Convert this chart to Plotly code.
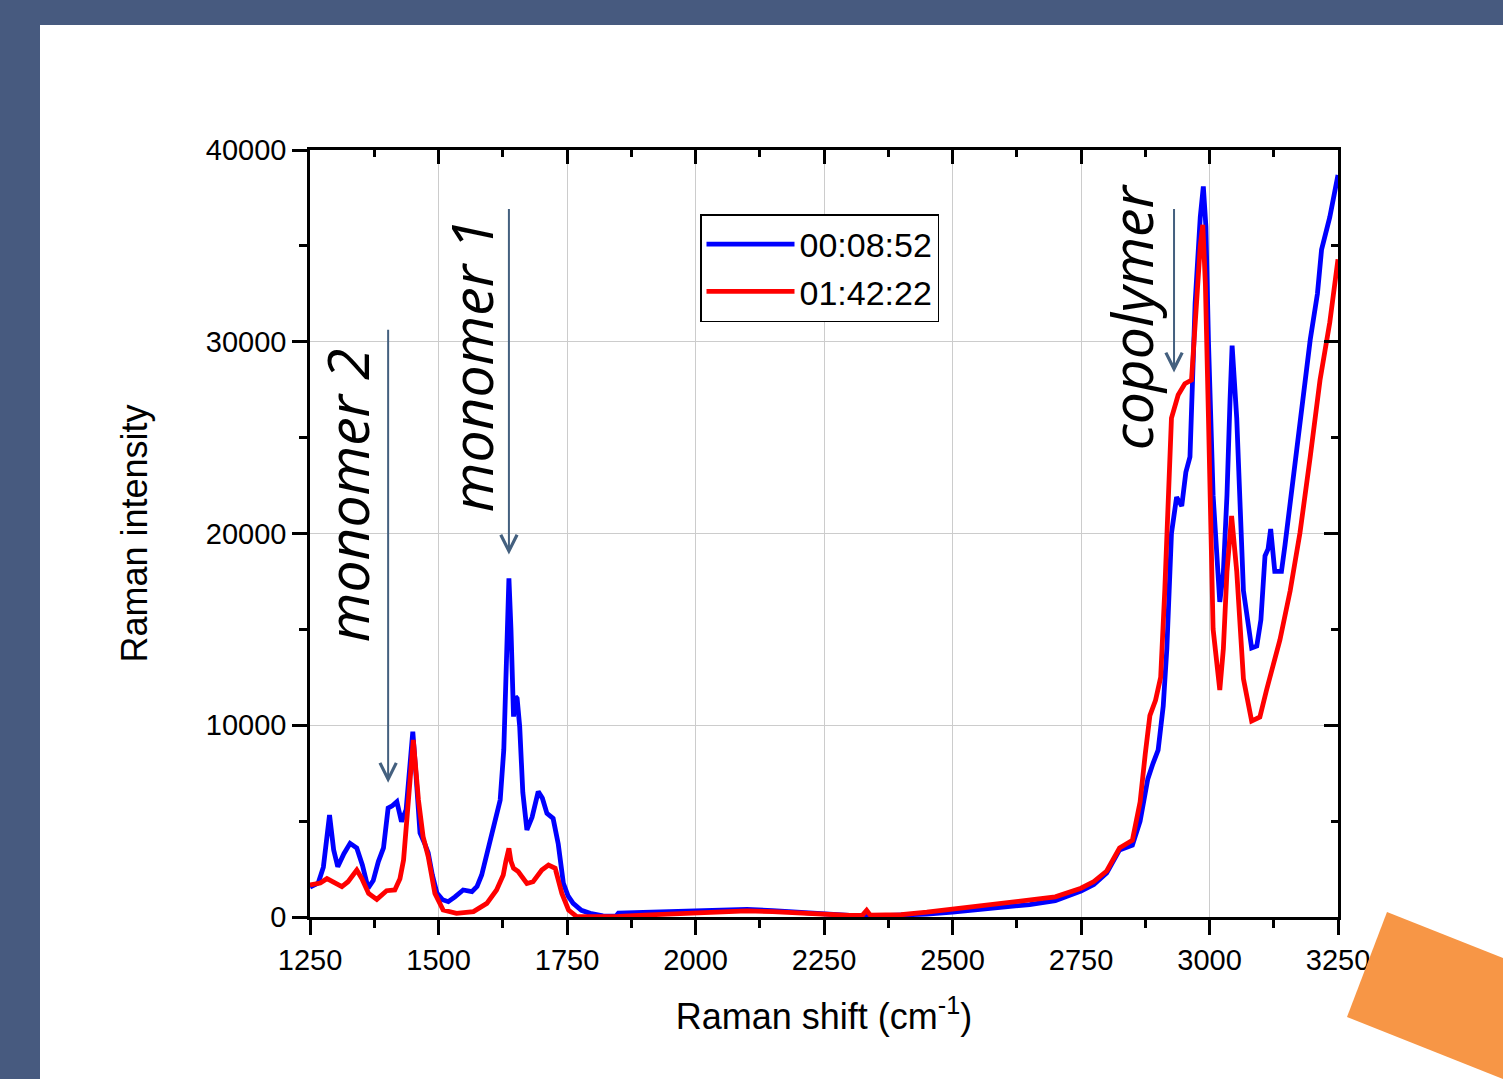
import plotly.graph_objects as go

# ---------------- data ----------------
x_blue = [1250, 1266, 1276, 1288, 1296, 1304, 1316, 1328, 1341, 1352, 1363, 1373, 1383, 1393, 1402,
          1410, 1419, 1428, 1437, 1444, 1450, 1456, 1464, 1472, 1480, 1488, 1497, 1508, 1519, 1532,
          1548, 1565, 1575, 1584, 1594, 1604, 1613, 1620, 1627, 1632, 1637, 1641, 1646, 1650, 1653,
          1658, 1664, 1672, 1682, 1694, 1702, 1711, 1723, 1733, 1743, 1752, 1762, 1778, 1795, 1820,
          1845, 1850, 1900, 1950, 2000, 2050, 2100, 2150, 2200, 2250, 2300, 2350, 2400, 2450, 2500,
          2550, 2600, 2650, 2700, 2750, 2775, 2800, 2825, 2850, 2865, 2880, 2890, 2900, 2910, 2917,
          2926, 2936, 2946, 2954, 2962, 2972, 2982, 2988, 2993, 2998, 3007, 3020, 3027, 3034, 3040,
          3044, 3053, 3066, 3082, 3092, 3100, 3108, 3114, 3119, 3127, 3140, 3147, 3163, 3182, 3196,
          3210, 3218, 3234, 3248, 3250]
y_blue = [1560, 1770, 2600, 5320, 3500, 2620, 3300, 3840, 3600, 2700, 1510, 1900, 2890, 3600, 5680,
          5800, 6010, 4970, 5600, 8000, 9660, 7500, 4380, 3900, 3340, 2200, 1250, 900, 800, 1050,
          1410, 1320, 1600, 2190, 3300, 4540, 5400, 6100, 8710, 13500, 17660, 15000, 10450, 11490, 11400,
          9920, 6500, 4540, 5200, 6540, 6200, 5400, 5140, 3800, 1750, 1100, 710, 350, 190, 60,
          40, 200, 250, 290, 330, 400, 400, 330, 230, 150, 80, 60, 80, 150, 250,
          380, 500, 650, 850, 1350, 1700, 2300, 3500, 3750, 5000, 7200, 8000, 8700, 11000, 14000,
          20000, 21900, 21430, 23200, 24000, 32000, 36500, 38100, 36000, 30000, 22000, 16430, 18000, 22000, 27000,
          29800, 26000, 17020, 14030, 14130, 15500, 18830, 19200, 20230, 18020, 18020, 19420, 23010, 26810, 30110,
          32500, 34800, 36500, 38700, 38700]

x_red = [1250, 1270, 1283, 1295, 1312, 1324, 1341, 1351, 1364, 1380, 1399, 1415, 1425, 1432, 1441,
         1451, 1461, 1470, 1480, 1493, 1509, 1535, 1568, 1594, 1613, 1626, 1631, 1637, 1641, 1646,
         1655, 1672, 1684, 1701, 1714, 1727, 1740, 1753, 1769, 1800, 1850, 1900, 1950, 2000, 2050,
         2100, 2150, 2200, 2250, 2300, 2325, 2333, 2340, 2400, 2450, 2500, 2550, 2600, 2650, 2700,
         2750, 2775, 2800, 2825, 2850, 2865, 2875, 2884, 2895, 2905, 2913, 2926, 2939, 2952, 2965,
         2975, 2982, 2987, 2992, 2998, 3007, 3020, 3027, 3034, 3043, 3053, 3066, 3082, 3098, 3111,
         3137, 3157, 3176, 3196, 3215, 3234, 3250]
y_red = [1670, 1770, 2000, 1840, 1580, 1840, 2450, 2000, 1230, 920, 1370, 1410, 2000, 2970, 6100,
         9230, 6100, 4190, 3150, 1230, 365, 190, 280, 710, 1410, 2190, 2900, 3580, 2900, 2540,
         2370, 1750, 1840, 2450, 2710, 2540, 1230, 365, 15, 0, 30, 100, 150, 220, 300,
         320, 280, 200, 120, 80, 100, 350, 100, 120, 250, 400, 550, 700, 850, 1050,
         1500, 1850, 2400, 3600, 4000, 6000, 8500, 10500, 11300, 12500, 17020, 26020, 27220, 27810, 28000,
         32400, 35000, 36100, 33000, 26020, 15020, 11840, 14000, 18020, 20910, 18020, 12430, 10220, 10430, 11840,
         14450, 17020, 20030, 24000, 28000, 31010, 34300]

series_names = ["00:08:52", "01:42:22"]
series_colors = ["#0000ff", "#ff0000"]

x_ticks = [1250, 1500, 1750, 2000, 2250, 2500, 2750, 3000, 3250]
y_ticks = [0, 10000, 20000, 30000, 40000]

labels = ["<i>monomer 2</i>", "<i>monomer 1</i>", "<i>copolymer</i>"]
label_x = [1322, 1562, 2846]
label_y = [22000, 28800, 31300]
arrow_x = [1402, 1637, 2931]
arrow_top = [30700, 37000, 37000]
arrow_tip = [7000, 18900, 28400]

# ---------------- figure ----------------
W, H = 1503, 1079
L, R, T, B = 310, 1338, 150, 917   # plot-area pixel box


def px(xp):
    return (xp - L) / (R - L)


def py(yp):
    return (B - yp) / (B - T)


fig = go.Figure()
fig.add_trace(go.Scatter(x=x_blue, y=y_blue, mode="lines", name=series_names[0],
                         line=dict(color=series_colors[0], width=4.8)))
fig.add_trace(go.Scatter(x=x_red, y=y_red, mode="lines", name=series_names[1],
                         line=dict(color=series_colors[1], width=4.8)))
# invisible helper trace for mirror axes (top / right ticks pointing inside)
fig.add_trace(go.Scatter(x=[x_ticks[0]], y=[y_ticks[0]], xaxis="x2", yaxis="y2", mode="lines",
                         showlegend=False, hoverinfo="skip", line=dict(width=0)))

tickfont = dict(family="Liberation Sans, Arial", size=29, color="black")

fig.update_layout(
    width=W, height=H,
    margin=dict(l=L, r=W - R, t=T, b=H - B, autoexpand=False),
    paper_bgcolor="#475a7f",
    plot_bgcolor="white",
    showlegend=True,
    font=dict(family="Liberation Sans, Arial", color="black"),
    xaxis=dict(range=[1250, 3250], tickvals=x_ticks, ticks="outside", ticklen=15, tickwidth=2.5,
               tickcolor="black", showline=True, linewidth=2.5, linecolor="black",
               showgrid=True, gridcolor="#cccccc", gridwidth=1, zeroline=False,
               minor=dict(dtick=125, tick0=1250, ticks="outside", ticklen=8, tickwidth=2.5,
                          tickcolor="black", showgrid=False),
               tickfont=tickfont,
               title=dict(text="Raman shift (cm<sup>-1</sup>)", standoff=30,
                          font=dict(family="Liberation Sans, Arial", size=36))),
    yaxis=dict(range=[0, 40000], tickvals=y_ticks, ticks="outside", ticklen=15, tickwidth=2.5,
               tickcolor="black", showline=True, linewidth=2.5, linecolor="black",
               showgrid=True, gridcolor="#cccccc", gridwidth=1, zeroline=False,
               minor=dict(dtick=5000, tick0=0, ticks="outside", ticklen=8, tickwidth=2.5,
                          tickcolor="black", showgrid=False),
               tickfont=tickfont, tickformat="d",
               title=dict(text="Raman intensity", standoff=48,
                          font=dict(family="Liberation Sans, Arial", size=36))),
    xaxis2=dict(range=[1250, 3250], overlaying="x", side="top", anchor="y",
                tickvals=x_ticks, ticks="inside", ticklen=14, tickwidth=2.5, tickcolor="black",
                showline=True, linewidth=2.5, linecolor="black", showticklabels=False,
                showgrid=False, zeroline=False,
                minor=dict(dtick=125, tick0=1250, ticks="inside", ticklen=7, tickwidth=2.5,
                           tickcolor="black", showgrid=False)),
    yaxis2=dict(range=[0, 40000], overlaying="y", side="right", anchor="x",
                tickvals=y_ticks, ticks="inside", ticklen=14, tickwidth=2.5, tickcolor="black",
                showline=True, linewidth=2.5, linecolor="black", showticklabels=False,
                showgrid=False, zeroline=False,
                minor=dict(dtick=5000, tick0=0, ticks="inside", ticklen=7, tickwidth=2.5,
                           tickcolor="black", showgrid=False)),
    legend=dict(x=px(700), y=py(214), xanchor="left", yanchor="top",
                bgcolor="white", bordercolor="black", borderwidth=1.5,
                font=dict(family="Liberation Sans, Arial", size=34, color="black"),
                itemwidth=88, tracegroupgap=0),
)

# slide decoration: white card + orange rotated block
fig.add_shape(type="rect", xref="paper", yref="paper", x0=px(40), x1=px(1503), y0=py(1079), y1=py(25),
              fillcolor="white", line=dict(width=0), layer="below")
fig.add_shape(type="path", xref="paper", yref="paper",
              path="M {} {} L {} {} L {} {} L {} {} Z".format(px(1387), py(912), px(1503), py(958),
                                                               px(1503), py(1079), px(1347), py(1017)),
              fillcolor="#f79646", line=dict(width=0), layer="above")

for t, lx, ly in zip(labels, label_x, label_y):
    fig.add_annotation(x=lx, y=ly, xref="x", yref="y", text=t, textangle=-90, showarrow=False,
                       font=dict(family="Open Sans", size=57, color="black"))

for axx, top, tip in zip(arrow_x, arrow_top, arrow_tip):
    fig.add_annotation(x=axx, y=tip, ax=axx, ay=top, xref="x", yref="y", axref="x", ayref="y",
                       text="", showarrow=True, arrowhead=5, arrowsize=1.6, arrowwidth=2,
                       arrowcolor="#44607f")

fig.write_html("out.html", config={"displayModeBar": False},
               post_script="document.body.style.margin='0';document.body.style.padding='0';"
                           "document.body.style.overflow='hidden';")
